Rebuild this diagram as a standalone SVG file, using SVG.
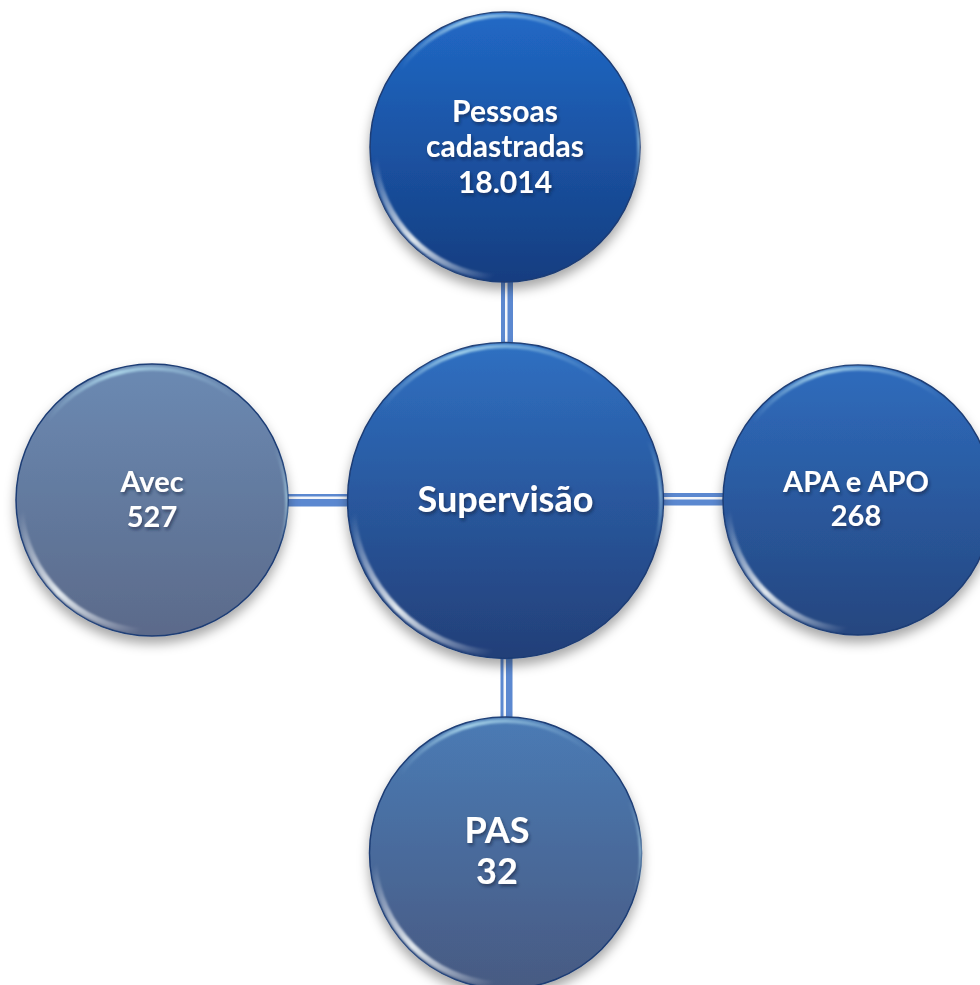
<svg xmlns="http://www.w3.org/2000/svg" width="980" height="985" viewBox="0 0 980 985">
  <defs>
    <filter id="shadow" x="-20%" y="-20%" width="140%" height="150%">
      <feDropShadow dx="0" dy="7" stdDeviation="6" flood-color="#000" flood-opacity="0.35"/>
    </filter>
    <filter id="tshadow" x="-20%" y="-40%" width="140%" height="180%">
      <feDropShadow dx="1.5" dy="2.5" stdDeviation="1.5" flood-color="#0a1a3a" flood-opacity="0.55"/>
    </filter>
    <filter id="soft" x="-10%" y="-10%" width="120%" height="120%">
      <feGaussianBlur stdDeviation="1.2"/>
    </filter>
    <linearGradient id="gTop" x1="0" y1="0" x2="0" y2="1">
      <stop offset="0" stop-color="#2169c6"/>
      <stop offset="1" stop-color="#153d80"/>
    </linearGradient>
    <linearGradient id="gCenter" x1="0" y1="0" x2="0" y2="1">
      <stop offset="0" stop-color="#2f70c2"/>
      <stop offset="1" stop-color="#233f78"/>
    </linearGradient>
    <linearGradient id="gLeft" x1="0" y1="0" x2="0" y2="1">
      <stop offset="0" stop-color="#6b8ab3"/>
      <stop offset="1" stop-color="#5b6a8a"/>
    </linearGradient>
    <linearGradient id="gRight" x1="0" y1="0" x2="0" y2="1">
      <stop offset="0" stop-color="#2f6cbd"/>
      <stop offset="1" stop-color="#25467f"/>
    </linearGradient>
    <linearGradient id="gBottom" x1="0" y1="0" x2="0" y2="1">
      <stop offset="0" stop-color="#4b7bb5"/>
      <stop offset="1" stop-color="#475a82"/>
    </linearGradient>
    <linearGradient id="hlBL" x1="0" y1="0" x2="1" y2="1">
      <stop offset="0" stop-color="#ffffff" stop-opacity="0"/>
      <stop offset="0.5" stop-color="#e8eef2" stop-opacity="0.95"/>
      <stop offset="1" stop-color="#ffffff" stop-opacity="0"/>
    </linearGradient>
    <linearGradient id="hlT" x1="0" y1="0" x2="1" y2="0">
      <stop offset="0" stop-color="#b8e4f4" stop-opacity="0"/>
      <stop offset="0.35" stop-color="#b8e4f4" stop-opacity="0.8"/>
      <stop offset="1" stop-color="#b8e4f4" stop-opacity="0"/>
    </linearGradient>
    <linearGradient id="hlR" x1="0" y1="0" x2="0" y2="1">
      <stop offset="0" stop-color="#b8e4f4" stop-opacity="0"/>
      <stop offset="0.5" stop-color="#b8e4f4" stop-opacity="0.6"/>
      <stop offset="1" stop-color="#b8e4f4" stop-opacity="0"/>
    </linearGradient>
  </defs>
  <style>
    .conn { fill: #5b88d0; }
    .connw { fill: #f4f6fa; }
    .rim { stroke: #1c3c74; stroke-width: 1.5; }
    .hlbl { fill: none; stroke: url(#hlBL); stroke-width: 6; stroke-linecap: round; }
    .hlt { fill: none; stroke: url(#hlT); stroke-width: 4; stroke-linecap: round; }
    .hlr { fill: none; stroke: url(#hlR); stroke-width: 3; stroke-linecap: round; }
    .lbl { font-family: Lato, "Open Sans", "DejaVu Sans", sans-serif; font-weight: bold; fill: #ffffff; text-anchor: middle; }
  </style>

  <g id="connectors">
    <rect class="conn" x="501" y="278" width="12" height="70"/>
    <rect class="connw" x="505" y="278" width="2.5" height="70"/>
    <rect class="conn" x="500.5" y="654" width="12" height="66"/>
    <rect class="connw" x="503.5" y="654" width="2.5" height="66"/>
    <rect class="conn" x="284" y="494" width="66" height="12.5"/>
    <rect class="connw" x="284" y="496.5" width="66" height="2.5"/>
    <rect class="conn" x="661" y="493" width="65" height="12.5"/>
    <rect class="connw" x="661" y="497" width="65" height="2.5"/>
  </g>

  <g id="node-top">
    <circle cx="505" cy="147" r="135" fill="url(#gTop)" class="rim" filter="url(#shadow)"/>
    <path class="hlbl" filter="url(#soft)" d="M 375 159 A 130 130 0 0 0 493 277"/>
    <path class="hlt" filter="url(#soft)" d="M 400 69 A 130 130 0 0 1 590 47"/>
    <path class="hlr" filter="url(#soft)" d="M 628 95 A 133 133 0 0 1 632 190"/>
    <g filter="url(#tshadow)">
      <text class="lbl" x="505" y="122" font-size="30">Pessoas</text>
      <text class="lbl" x="505" y="157" font-size="30">cadastradas</text>
      <text class="lbl" x="505" y="193" font-size="30">18.014</text>
    </g>
  </g>

  <g id="node-center">
    <circle cx="505.5" cy="500.5" r="158" fill="url(#gCenter)" class="rim" filter="url(#shadow)"/>
    <path class="hlbl" filter="url(#soft)" d="M 353 514 A 153 153 0 0 0 492 653"/>
    <path class="hlt" filter="url(#soft)" d="M 382 408 A 153 153 0 0 1 603 382"/>
    <path class="hlr" filter="url(#soft)" d="M 648 440 A 156 156 0 0 1 654 548"/>
    <g filter="url(#tshadow)">
      <text class="lbl" x="505.5" y="512" font-size="36">Supervisão</text>
    </g>
  </g>

  <g id="node-left">
    <circle cx="152" cy="500" r="136" fill="url(#gLeft)" class="rim" filter="url(#shadow)"/>
    <path class="hlbl" filter="url(#soft)" d="M 21 512 A 131 131 0 0 0 140 631"/>
    <path class="hlt" filter="url(#soft)" d="M 47 421 A 131 131 0 0 1 237 400"/>
    <path class="hlr" filter="url(#soft)" d="M 275 448 A 134 134 0 0 1 280 545"/>
    <g filter="url(#tshadow)">
      <text class="lbl" x="152" y="492" font-size="29">Avec</text>
      <text class="lbl" x="152" y="527" font-size="29">527</text>
    </g>
  </g>

  <g id="node-right">
    <circle cx="858" cy="500" r="135" fill="url(#gRight)" class="rim" filter="url(#shadow)"/>
    <path class="hlbl" filter="url(#soft)" d="M 728 512 A 130 130 0 0 0 846 630"/>
    <path class="hlt" filter="url(#soft)" d="M 753 422 A 130 130 0 0 1 943 400"/>
    <g filter="url(#tshadow)">
      <text class="lbl" x="856" y="492" font-size="29">APA e APO</text>
      <text class="lbl" x="856" y="526" font-size="29">268</text>
    </g>
  </g>

  <g id="node-bottom">
    <circle cx="505.5" cy="853" r="136" fill="url(#gBottom)" class="rim" filter="url(#shadow)"/>
    <path class="hlbl" filter="url(#soft)" d="M 374.5 865 A 131 131 0 0 0 493.5 984"/>
    <path class="hlt" filter="url(#soft)" d="M 400 774 A 131 131 0 0 1 591 753"/>
    <path class="hlr" filter="url(#soft)" d="M 629 801 A 134 134 0 0 1 634 898"/>
    <g filter="url(#tshadow)">
      <text class="lbl" x="497" y="843" font-size="36">PAS</text>
      <text class="lbl" x="497" y="884" font-size="36">32</text>
    </g>
  </g>
</svg>
